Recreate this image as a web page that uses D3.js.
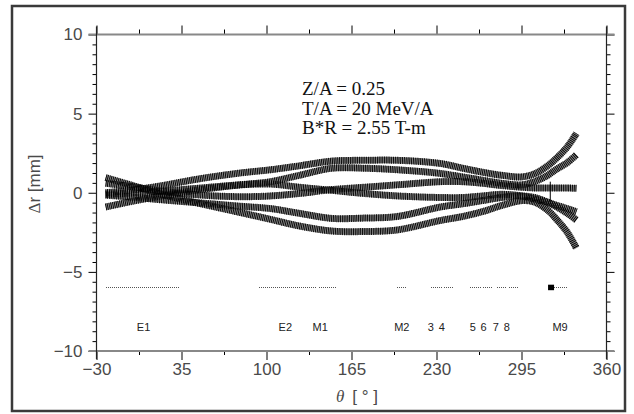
<!DOCTYPE html>
<html>
<head>
<meta charset="utf-8">
<script src="https://cdn.jsdelivr.net/npm/d3@7"></script>
<style>
  body { margin: 0; background: #fff; }
  svg { display: block; }
</style>
</head>
<body>
<div id="graph"></div>
<script>
// angle samples along the ring (deg) and the six ray deviations (mm)
const thetaPts = [-23, 0, 20, 50, 80, 103, 125, 150, 175, 200, 233, 250, 265, 280, 295, 305, 315, 322, 330, 337];
const rayT1 = [0.0, 0.2, 0.45, 0.9, 1.25, 1.45, 1.7, 2.0, 2.05, 2.05, 1.85, 1.55, 1.3, 1.1, 1.0, 1.2, 1.7, 2.2, 2.9, 3.75];
const rayT2 = [-0.9, -0.5, -0.2, 0.2, 0.5, 0.7, 1.1, 1.55, 1.55, 1.45, 1.22, 1.0, 0.8, 0.6, 0.5, 0.7, 1.1, 1.5, 1.9, 2.4];
const rayM1 = [0.6, 0.35, 0.1, -0.15, -0.25, -0.2, -0.05, 0.2, 0.35, 0.5, 0.7, 0.7, 0.6, 0.45, 0.35, 0.3, 0.3, 0.3, 0.3, 0.28];
const rayM2 = [-0.1, 0.0, 0.1, 0.3, 0.5, 0.55, 0.35, 0.15, -0.05, -0.2, -0.3, -0.3, -0.2, -0.1, -0.2, -0.4, -0.6, -0.8, -1.0, -1.2];
const rayB1 = [-0.15, -0.3, -0.45, -0.65, -0.85, -1.0, -1.3, -1.62, -1.6, -1.5, -0.9, -0.7, -0.5, -0.3, -0.2, -0.3, -0.6, -0.9, -1.3, -1.72];
const rayB2 = [0.95, 0.4, -0.1, -0.7, -1.25, -1.68, -2.1, -2.42, -2.45, -2.35, -1.75, -1.5, -1.2, -0.8, -0.5, -0.6, -1.1, -1.7, -2.5, -3.5];
const rays = [rayT1, rayT2, rayM1, rayM2, rayB1, rayB2];

// element positions (dotted bars at -6 mm) and their labels
const barLevel = -6;
const barStart = [-22.4, 94.5, 139.8, 199.7, 225.9, 235.9, 255.7, 265.9, 276.1, 285.5, 319.9];
const barEnd   = [33.6, 138.6, 153.4, 207.3, 234.1, 243.0, 264.1, 273.5, 283.7, 293.1, 330.8];
const squareTheta = 317.6;
const labelLevel = -8.46;
const labelNames = ["E1", "E2", "M1", "M2", "3", "4", "5", "6", "7", "8", "M9"];
const labelTheta = [6, 114.4, 141, 203.5, 225.7, 234, 257.8, 265.9, 275.3, 283.7, 324.5];

// vertical marker near M9: theta, top, bottom
const markTheta = 317;
const markTop = 0.7, markBottom = -0.55;

const xMajor = [-30, 35, 100, 165, 230, 295, 360];
const yMajor = [-10, -5, 0, 5, 10];
const infoLines = ["Z/A = 0.25", "T/A = 20 MeV/A", "B*R = 2.55 T-m"];

const W = 634, H = 414;
const svg = d3.select("#graph").append("svg")
  .attr("width", W).attr("height", H);

// outer frame
svg.append("rect")
  .attr("x", 12).attr("y", 6).attr("width", 613).attr("height", 405)
  .attr("fill", "none").attr("stroke", "#3a3a3a").attr("stroke-width", 2.5);

const x = d3.scaleLinear().domain([-30, 360]).range([96.5, 606.5]);
const y = d3.scaleLinear().domain([-10, 10]).range([351, 34.5]);

const xMinor = xMajor.slice(0, -1).map(d => d + 32.5);
const yMinor = d3.range(-10, 10.001, 0.625).filter(d => yMajor.indexOf(d) < 0);

const tickFont = "'Liberation Sans', Arial, sans-serif";

function styleAxis(g) {
  g.select(".domain").remove();
  g.selectAll(".tick line").attr("stroke", "#000").attr("stroke-width", 1);
  g.selectAll("text").attr("font-family", tickFont).attr("font-size", 17).attr("fill", "#4a4a4a");
}

// bottom
svg.append("g").attr("transform", `translate(0,${y(-10)})`)
  .call(d3.axisBottom(x).tickValues(xMajor).tickSize(9).tickPadding(3).tickFormat(d3.format("d")))
  .call(styleAxis);
svg.append("g").attr("transform", `translate(0,${y(-10)})`)
  .call(d3.axisBottom(x).tickValues(xMinor).tickSize(4).tickFormat(""))
  .call(styleAxis);
// top
svg.append("g").attr("transform", `translate(0,${y(10)})`)
  .call(d3.axisTop(x).tickValues(xMajor).tickSize(9).tickFormat(""))
  .call(styleAxis);
svg.append("g").attr("transform", `translate(0,${y(10)})`)
  .call(d3.axisTop(x).tickValues(xMinor).tickSize(5).tickFormat(""))
  .call(styleAxis);
// left
svg.append("g").attr("transform", `translate(${x(-30)},0)`)
  .call(d3.axisLeft(y).tickValues(yMajor).tickSize(8).tickPadding(6).tickFormat(d3.format("d")))
  .call(styleAxis);
svg.append("g").attr("transform", `translate(${x(-30)},0)`)
  .call(d3.axisLeft(y).tickValues(yMinor).tickSize(4).tickFormat(""))
  .call(styleAxis);
// right
svg.append("g").attr("transform", `translate(${x(360)},0)`)
  .call(d3.axisRight(y).tickValues(yMajor).tickSize(8).tickFormat(""))
  .call(styleAxis);
svg.append("g").attr("transform", `translate(${x(360)},0)`)
  .call(d3.axisRight(y).tickValues(yMinor).tickSize(4).tickFormat(""))
  .call(styleAxis);

// axis lines, slightly overshooting the corners
const ext = 8;
svg.append("line").attr("x1", x(-30) - ext).attr("x2", x(360) + ext)
  .attr("y1", y(-10)).attr("y2", y(-10)).attr("stroke", "#888").attr("stroke-width", 2);
svg.append("line").attr("x1", x(-30) - ext).attr("x2", x(360) + ext)
  .attr("y1", y(10)).attr("y2", y(10)).attr("stroke", "#888").attr("stroke-width", 2);
svg.append("line").attr("x1", x(-30)).attr("x2", x(-30))
  .attr("y1", y(10) - ext).attr("y2", y(-10) + ext).attr("stroke", "#222").attr("stroke-width", 1.2);
svg.append("line").attr("x1", x(360)).attr("x2", x(360))
  .attr("y1", y(10) - ext).attr("y2", y(-10) + ext).attr("stroke", "#222").attr("stroke-width", 1.2);

// axis titles
const yt = svg.append("text")
  .attr("transform", "translate(40,184) rotate(-90)")
  .attr("text-anchor", "middle")
  .attr("font-family", tickFont).attr("font-size", 17).attr("fill", "#4a4a4a");
yt.append("tspan").attr("font-family", "'Liberation Serif', serif").text("Δ");
yt.append("tspan").text("r [mm]");

const xt = svg.append("text")
  .attr("x", 357).attr("y", 402)
  .attr("text-anchor", "middle")
  .attr("font-family", tickFont).attr("font-size", 17).attr("fill", "#4a4a4a");
xt.append("tspan").attr("font-family", "'Liberation Serif', serif").attr("font-style", "italic").text("θ");
xt.append("tspan").attr("dx", 8).text("[ ° ]");

// info text
svg.selectAll("text.info").data(infoLines).join("text")
  .attr("class", "info")
  .attr("x", 302).attr("y", (d, i) => 95 + i * 19.5)
  .attr("font-family", "'Liberation Serif', 'Times New Roman', serif")
  .attr("font-size", 19).attr("fill", "#111")
  .text(d => d);

// ray bands: grey body + dense vertical hatching
const line = d3.line()
  .x((d, i) => x(thetaPts[i]))
  .y(d => y(d))
  .curve(d3.curveCatmullRom.alpha(0.5));

const bands = svg.append("g");
bands.selectAll("path.body").data(rays).join("path")
  .attr("class", "body")
  .attr("d", line)
  .attr("fill", "none").attr("stroke", "#8a8a8a").attr("stroke-width", 6.5);
bands.selectAll("path.hatch").data(rays).join("path")
  .attr("class", "hatch")
  .attr("d", line)
  .attr("fill", "none").attr("stroke", "#000").attr("stroke-width", 7)
  .attr("stroke-dasharray", "0.9 0.9");

// vertical marker line
svg.append("line")
  .attr("x1", x(markTheta)).attr("x2", x(markTheta))
  .attr("y1", y(markTop)).attr("y2", y(markBottom))
  .attr("stroke", "#000").attr("stroke-width", 1);

// element bars
svg.selectAll("line.bar").data(barStart).join("line")
  .attr("class", "bar")
  .attr("x1", d => x(d)).attr("x2", (d, i) => x(barEnd[i]))
  .attr("y1", y(barLevel)).attr("y2", y(barLevel))
  .attr("stroke", "#555").attr("stroke-width", 1)
  .attr("shape-rendering", "crispEdges")
  .attr("stroke-dasharray", "1 1");

svg.append("rect")
  .attr("x", x(squareTheta) - 3).attr("y", y(barLevel) - 3)
  .attr("width", 6).attr("height", 5.5).attr("fill", "#000");

svg.selectAll("text.elem").data(labelNames).join("text")
  .attr("class", "elem")
  .attr("x", (d, i) => x(labelTheta[i]))
  .attr("y", y(labelLevel) + 4)
  .attr("text-anchor", "middle")
  .attr("font-family", tickFont).attr("font-size", 11).attr("fill", "#222")
  .text(d => d);
</script>
</body>
</html>
